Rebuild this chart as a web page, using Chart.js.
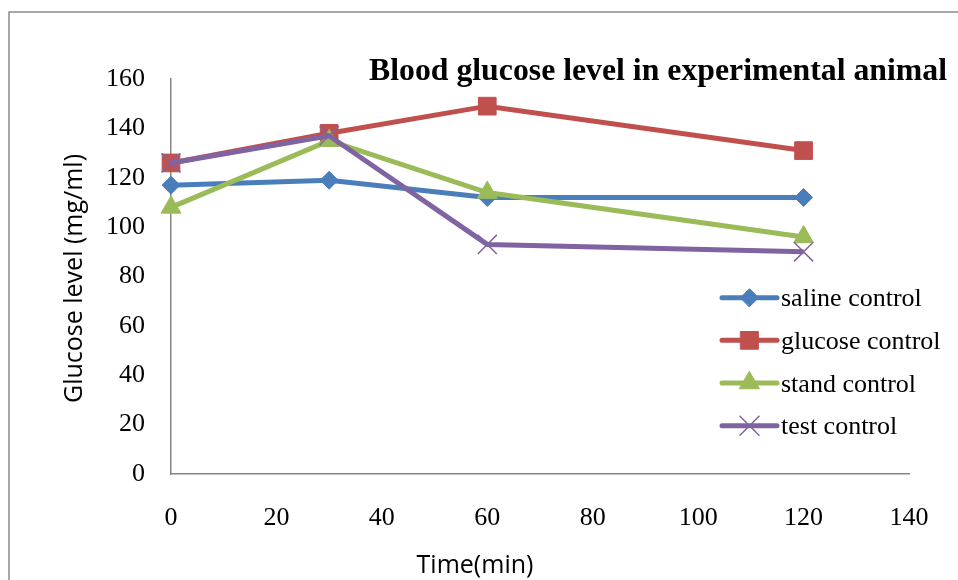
<!DOCTYPE html>
<html>
<head>
<meta charset="utf-8">
<script src="https://cdn.jsdelivr.net/npm/chart.js@4.4.1/dist/chart.umd.min.js"></script>
<style>
  html, body { margin: 0; padding: 0; background: #ffffff; }
  canvas { display: block; }
</style>
</head>
<body>
<canvas id="glucose" width="958" height="580"></canvas>
<script>
// Sampling times (min)
const timePoints = [0, 30, 60, 120];

// Blood glucose (mg/ml) per group
const salineControl  = [117, 119, 112, 112];
const glucoseControl = [126, 138, 149, 131];
const standControl   = [108, 135, 114, 96];
const testControl    = [126, 137, 93, 90];

// Axis tick values
const xTickValues = [0, 20, 40, 60, 80, 100, 120, 140];
const yTickValues = [0, 20, 40, 60, 80, 100, 120, 140, 160];

const chartTitle = 'Blood glucose level in experimental animal';
const xAxisTitle = 'Time(min)';
const yAxisTitle = 'Glucose level (mg/ml)';

const SERIF = '"Liberation Serif", "Times New Roman", serif';
const SANS = '"Open Sans", "Liberation Sans", sans-serif';

function pairs(values) {
  return timePoints.map((t, i) => ({ x: t, y: values[i] }));
}

function series(label, values, color, style, radius, order, pointBorder) {
  return {
    label,
    data: pairs(values),
    borderColor: color,
    backgroundColor: color,
    borderWidth: 5,
    pointStyle: style,
    pointRadius: radius,
    pointHoverRadius: radius,
    pointBackgroundColor: color,
    pointBorderColor: color,
    pointBorderWidth: pointBorder,
    tension: 0,
    clip: false,
    order
  };
}

// Outer frame, title, axis titles and the in-plot legend
const decorations = {
  id: 'decorations',
  beforeDraw(chart) {
    const ctx = chart.ctx;
    ctx.save();
    ctx.strokeStyle = '#8a8a8a';
    ctx.lineWidth = 1.5;
    ctx.beginPath();
    ctx.moveTo(9, 580);
    ctx.lineTo(9, 12);
    ctx.lineTo(958, 12);
    ctx.stroke();
    ctx.restore();
  },
  afterDraw(chart) {
    const ctx = chart.ctx;
    ctx.save();

    // Chart title
    ctx.fillStyle = '#000000';
    ctx.font = 'bold 32px ' + SERIF;
    ctx.textAlign = 'left';
    ctx.textBaseline = 'alphabetic';
    ctx.fillText(chartTitle, 369, 80, 578);

    // X axis title
    ctx.font = '25px ' + SANS;
    ctx.textAlign = 'center';
    ctx.fillText(xAxisTitle, 475, 573, 121);

    // Y axis title (rotated)
    ctx.save();
    ctx.translate(82, 278.5);
    ctx.rotate(-Math.PI / 2);
    ctx.font = '25px ' + SANS;
    ctx.textAlign = 'center';
    ctx.fillText(yAxisTitle, 0, 0, 257);
    ctx.restore();

    // Legend
    const rowTop = 297.7;
    const rowGap = 42.67;
    chart.data.datasets.forEach((ds, i) => {
      const y = rowTop + i * rowGap;
      ctx.strokeStyle = ds.borderColor;
      ctx.lineWidth = 5;
      ctx.lineCap = 'round';
      ctx.beginPath();
      ctx.moveTo(722, y);
      ctx.lineTo(777, y);
      ctx.stroke();
      ctx.fillStyle = ds.pointBackgroundColor;
      ctx.strokeStyle = ds.pointBorderColor;
      ctx.lineWidth = ds.pointBorderWidth;
      Chart.helpers.drawPoint(ctx, {
        pointStyle: ds.pointStyle,
        radius: ds.pointRadius,
        rotation: 0,
        borderWidth: ds.pointBorderWidth
      }, 749.5, y);
      ctx.fillStyle = '#000000';
      ctx.font = '26px ' + SERIF;
      ctx.textAlign = 'left';
      ctx.textBaseline = 'alphabetic';
      ctx.fillText(ds.label, 781, y + 8.5);
    });
    ctx.restore();
  }
};

new Chart(document.getElementById('glucose'), {
  type: 'line',
  data: {
    datasets: [
      series('saline control', salineControl, '#4a7ebb', 'rectRot', 9, 3, 1),
      series('glucose control', glucoseControl, '#c0504d', 'rect', 12.5, 2, 1),
      series('stand control', standControl, '#9bbb59', 'triangle', 11.5, 1, 1),
      series('test control', testControl, '#8064a2', 'crossRot', 13.5, 0, 1.5)
    ]
  },
  options: {
    responsive: false,
    animation: false,
    devicePixelRatio: 1,
    layout: { padding: { left: 10, top: 79, right: 49, bottom: 0 } },
    plugins: {
      legend: { display: false },
      title: { display: false },
      tooltip: { enabled: false }
    },
    scales: {
      x: {
        type: 'linear',
        min: 0,
        max: 140,
        afterBuildTicks(scale) {
          scale.ticks = xTickValues.map(v => ({ value: v }));
        },
        afterFit(scale) { scale.height = 106; },
        grid: { display: false, drawTicks: false },
        border: { display: true, color: '#868686', width: 1.5 },
        ticks: {
          padding: 29,
          color: '#000000',
          font: { family: SERIF, size: 26 },
          maxRotation: 0
        }
      },
      y: {
        type: 'linear',
        min: 0,
        max: 160,
        afterBuildTicks(scale) {
          scale.ticks = yTickValues.map(v => ({ value: v }));
        },
        afterFit(scale) { scale.width = 161; },
        grid: { display: false, drawTicks: false },
        border: { display: true, color: '#868686', width: 1.5 },
        ticks: {
          padding: 26,
          color: '#000000',
          font: { family: SERIF, size: 26 }
        }
      }
    }
  },
  plugins: [decorations]
});
</script>
</body>
</html>
